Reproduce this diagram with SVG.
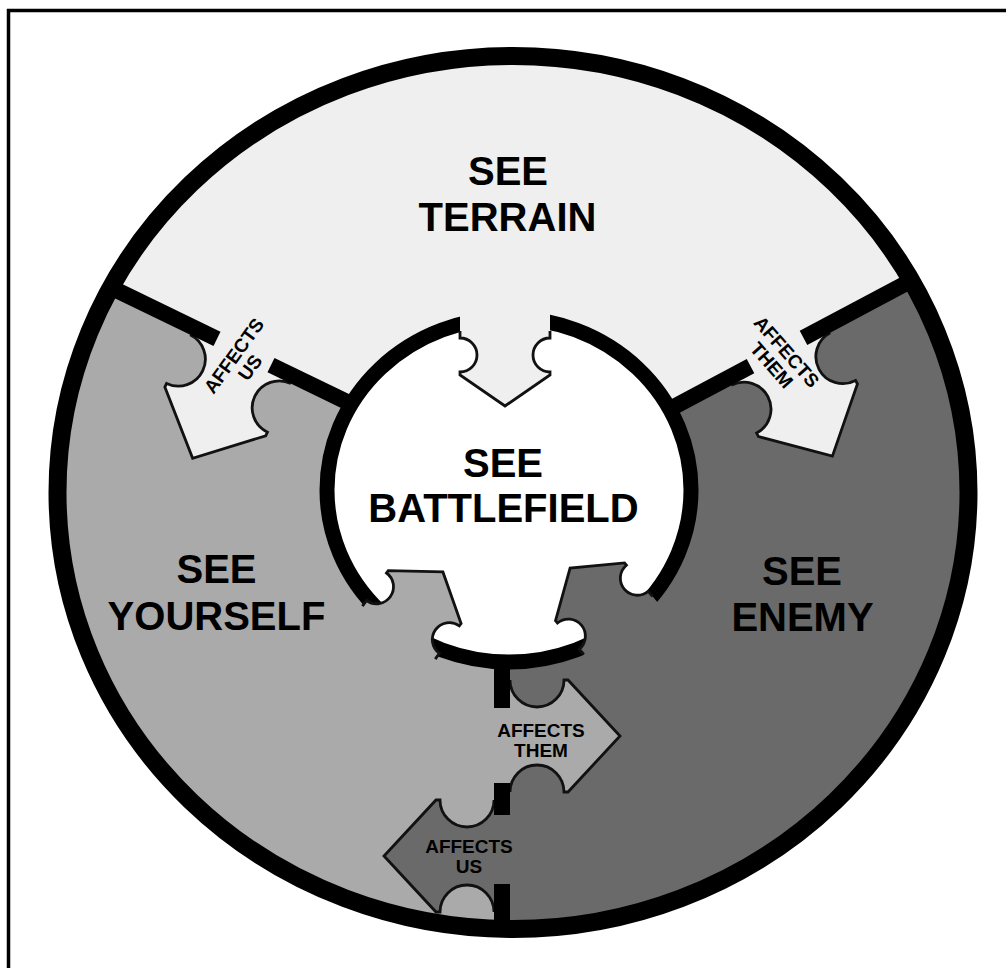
<svg xmlns="http://www.w3.org/2000/svg" xmlns:xlink="http://www.w3.org/1999/xlink" width="1006" height="968" viewBox="0 0 1006 968">
<style>
.big{font-family:"Liberation Sans",Arial,sans-serif;font-weight:bold;font-size:40px;text-anchor:middle;fill:#000}
.sm{font-family:"Liberation Sans",Arial,sans-serif;font-weight:bold;font-size:19px;text-anchor:middle;fill:#000}
.ol{fill:none;stroke:#111;stroke-width:2.8;stroke-linejoin:miter}
.bar{stroke:#000;stroke-width:16;fill:none}
.ter{fill:#efefef}
.you{fill:#aaaaaa}
.ene{fill:#6a6a6a}
</style>
<defs>
<clipPath id="circ"><ellipse cx="513" cy="492.5" rx="456" ry="437"/></clipPath>
<path id="oaF" d="M-20,-56 L8,-56 A27,27 0 0 0 62,-56 L66,-56 L118,0 L66,56 L62,56 A27,27 0 0 0 8,56 L-20,56 Z"/>
<path id="oaO" d="M8,-56 A27,27 0 0 0 62,-56 L66,-56 L118,0 L66,56 L62,56 A27,27 0 0 0 8,56"/>
<path id="iaF" d="M-30,-45 L5,-45 A17,17 0 0 0 39,-45 L42,-45 L73,0 L42,45 L39,45 A17,17 0 0 0 5,45 L-30,45 Z"/>
<path id="iaO" d="M-2,-45 L5,-45 A17,17 0 0 0 39,-45 L42,-45 L73,0 L42,45 L39,45 A17,17 0 0 0 5,45 L-2,45"/>
</defs>
<rect width="1006" height="968" fill="#fff"/>
<g id="frame">
<line x1="7" y1="10.5" x2="1006" y2="10.5" stroke="#000" stroke-width="3.5"/>
<line x1="8.5" y1="9" x2="8.5" y2="968" stroke="#000" stroke-width="3.5"/>
</g>
<g id="sectors">
<ellipse class="you" cx="513" cy="492.5" rx="456" ry="437"/>
<polygon class="ter" clip-path="url(#circ)" points="-31,219 523,487 1042,211 1042,-10 -31,-10"/>
<polygon class="ene" clip-path="url(#circ)" points="523,487 1042,211 1042,1000 502,1000 502,487"/>
</g>
<g id="connectors">
<g id="arrow-terrain-us">
<use xlink:href="#oaF" class="ter" transform="translate(244,352) rotate(115.8)"/>
<use xlink:href="#oaO" class="ol" transform="translate(244,352) rotate(115.8)"/>
</g>
<g id="arrow-terrain-them">
<use xlink:href="#oaF" class="ter" transform="translate(777,352) rotate(62)"/>
<use xlink:href="#oaO" class="ol" transform="translate(777,352) rotate(62)"/>
</g>
<g id="arrow-you-them">
<use xlink:href="#oaF" class="you" transform="translate(502,736)"/>
<use xlink:href="#oaO" class="ol" transform="translate(502,736)"/>
</g>
<g id="arrow-enemy-us">
<use xlink:href="#oaF" class="ene" transform="translate(502,856) rotate(180)"/>
<use xlink:href="#oaO" class="ol" transform="translate(502,856) rotate(180)"/>
</g>
<g id="dividers">
<line class="bar" x1="111" y1="287.5" x2="217" y2="338.9"/>
<line class="bar" x1="271" y1="365.1" x2="361" y2="408.7"/>
<line class="bar" x1="803.5" y1="337.9" x2="909" y2="281.7"/>
<line class="bar" x1="750.5" y1="366.1" x2="653.4" y2="417.8"/>
<line class="bar" x1="502" y1="655" x2="502" y2="708"/>
<line class="bar" x1="502" y1="783" x2="502" y2="815"/>
<line class="bar" x1="502" y1="884" x2="502" y2="928"/>
</g>
</g>
<g id="battlefield">
<ellipse cx="509" cy="490" rx="182" ry="172" fill="#fff" stroke="#000" stroke-width="15"/>
<g id="in-terrain">
<use xlink:href="#iaF" class="ter" transform="translate(505,333) rotate(90)"/>
<use xlink:href="#iaO" class="ol" transform="translate(505,333) rotate(90)"/>
</g>
<g id="in-yourself">
<use xlink:href="#iaF" class="you" transform="translate(400,631) rotate(-54)"/>
<use xlink:href="#iaO" class="ol" transform="translate(400,631) rotate(-54)"/>
</g>
<g id="in-enemy">
<use xlink:href="#iaF" class="ene" transform="translate(617,624) rotate(-130)"/>
<use xlink:href="#iaO" class="ol" transform="translate(617,624) rotate(-130)"/>
</g>
<text class="big" x="503" y="477">SEE</text>
<text class="big" x="503.5" y="522">BATTLEFIELD</text>
</g>
<g id="outer-ring">
<ellipse cx="513" cy="492.5" rx="455.5" ry="436.5" fill="none" stroke="#000" stroke-width="18"/>
</g>
<g id="terrain"><text class="big" x="508" y="185">SEE</text><text class="big" x="507.5" y="231">TERRAIN</text></g>
<g id="yourself"><text class="big" x="216.5" y="583">SEE</text><text class="big" x="216.5" y="630">YOURSELF</text></g>
<g id="enemy"><text class="big" x="802" y="585">SEE</text><text class="big" x="802.5" y="631">ENEMY</text></g>
<g id="labels">
<g transform="translate(233.5,355.5) rotate(-54)"><text class="sm" x="0" y="7">AFFECTS</text><text class="sm" x="0" y="27">US</text></g>
<g transform="translate(787,351.5) rotate(48.6)"><text class="sm" x="0" y="7">AFFECTS</text><text class="sm" x="0" y="27">THEM</text></g>
<text class="sm" x="541" y="737">AFFECTS</text><text class="sm" x="541" y="757">THEM</text>
<text class="sm" x="469" y="853">AFFECTS</text><text class="sm" x="469" y="873">US</text>
</g>
</svg>
